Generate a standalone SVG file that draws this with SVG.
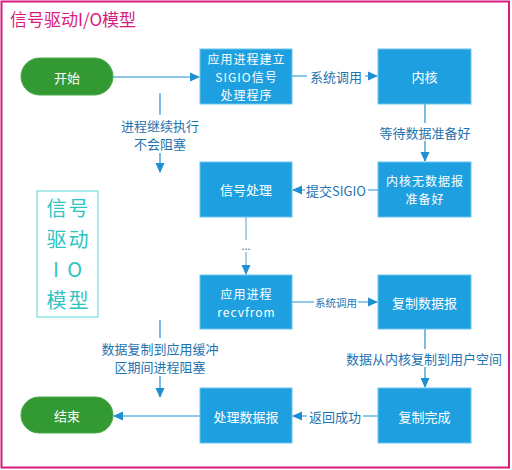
<svg xmlns="http://www.w3.org/2000/svg" width="512" height="470" viewBox="0 0 512 470">
<defs>
<marker id="arr" markerWidth="10" markerHeight="10" refX="9" refY="5" orient="auto" markerUnits="userSpaceOnUse">
<path d="M0,0.5 L10,5 L0,9.5 Z" fill="#1f8fd3"/>
</marker>
<style>
text{font-family:"Noto Sans CJK SC","Microsoft YaHei",sans-serif;}
.box{fill:#1ea0e0;stroke:#6cc3ef;stroke-width:1;}
.term{fill:#339933;stroke:#4aa84a;stroke-width:1;}
.nt{fill:#ffffff;font-size:13px;text-anchor:middle;dominant-baseline:central;}
.nm{fill:#ffffff;font-size:12px;letter-spacing:1px;text-anchor:middle;dominant-baseline:central;}
.ln{stroke:#1f8fd3;stroke-width:1.2;fill:none;}
.lb{fill:#1e73b0;font-size:13px;text-anchor:middle;dominant-baseline:central;}
.lbs{fill:#1e73b0;font-size:10.5px;text-anchor:middle;dominant-baseline:central;}
.bg{fill:#ffffff;}
.side{font-size:20px;letter-spacing:2px;fill:#2ec4c4;text-anchor:middle;dominant-baseline:central;}
</style>
</defs>
<rect x="1.5" y="1.5" width="507.5" height="466" fill="#ffffff" stroke="#d81b7e" stroke-width="2"/>
<text x="10" y="18" font-size="17" fill="#d81b7e" dominant-baseline="central">信号驱动I/O模型</text>

<g id="connectors">
<path class="ln" d="M113,77 H199" marker-end="url(#arr)"/>
<path class="ln" d="M292,76 H377" marker-end="url(#arr)"/>
<rect class="bg" x="307" y="67" width="58" height="18"/>
<text class="lb" x="336" y="76">系统调用</text>
<path class="ln" d="M425,104 V161" marker-end="url(#arr)"/>
<rect class="bg" x="377" y="123" width="96" height="18"/>
<text class="lb" x="425" y="132">等待数据准备好</text>
<path class="ln" d="M378,190 H293" marker-end="url(#arr)"/>
<rect class="bg" x="305" y="181" width="63" height="18"/>
<text class="lb" x="336" y="190">提交SIGIO</text>
<path class="ln" d="M160,93 V172" marker-end="url(#arr)"/>
<rect class="bg" x="118" y="115" width="84" height="38"/>
<text class="lb" x="160" y="125">进程继续执行</text>
<text class="lb" x="160" y="143">不会阻塞</text>
<path class="ln" d="M246,217 V274" marker-end="url(#arr)" stroke-opacity="0.7"/>
<rect class="bg" x="239" y="240" width="14" height="12"/>
<text class="lbs" x="246" y="245">...</text>
<path class="ln" d="M292,302 H377" marker-end="url(#arr)"/>
<rect class="bg" x="314" y="295" width="44" height="14"/>
<text class="lbs" x="336" y="302">系统调用</text>
<path class="ln" d="M425,329 V387" marker-end="url(#arr)"/>
<rect class="bg" x="345" y="349" width="160" height="18"/>
<text class="lb" x="424" y="358">数据从内核复制到用户空间</text>
<path class="ln" d="M378,416 H293" marker-end="url(#arr)"/>
<rect class="bg" x="307" y="407" width="56" height="18"/>
<text class="lb" x="335" y="416">返回成功</text>
<path class="ln" d="M200,416 H114" marker-end="url(#arr)"/>
<path class="ln" d="M160,320 V397" marker-end="url(#arr)"/>
<rect class="bg" x="98" y="338" width="124" height="38"/>
<text class="lb" x="160" y="348">数据复制到应用缓冲</text>
<text class="lb" x="160" y="366">区期间进程阻塞</text>
</g>

<g id="start">
<rect class="term" x="21" y="58" width="92" height="37" rx="18.5"/>
<text class="nt" x="67" y="77">开始</text>
</g>
<g id="setup">
<rect class="box" x="200" y="49" width="92" height="55"/>
<text class="nm" x="246.5" y="58.5">应用进程建立</text>
<text class="nm" x="246.5" y="76.5">SIGIO信号</text>
<text class="nm" x="246.5" y="94.5">处理程序</text>
</g>
<g id="kernel">
<rect class="box" x="378" y="49" width="93" height="55"/>
<text class="nt" x="424.5" y="76">内核</text>
</g>
<g id="notready">
<rect class="box" x="378" y="162" width="93" height="55"/>
<text class="nm" x="425" y="180.5">内核无数据报</text>
<text class="nm" x="425" y="198.5">准备好</text>
</g>
<g id="sighandle">
<rect class="box" x="200" y="162" width="92" height="55"/>
<text class="nt" x="246" y="189">信号处理</text>
</g>
<g id="recvfrom">
<rect class="box" x="200" y="275" width="92" height="54"/>
<text class="nm" x="246.5" y="293">应用进程</text>
<text class="nm" x="246.5" y="311">recvfrom</text>
</g>
<g id="copy">
<rect class="box" x="378" y="275" width="93" height="54"/>
<text class="nt" x="424.5" y="302">复制数据报</text>
</g>
<g id="copydone">
<rect class="box" x="378" y="388" width="93" height="55"/>
<text class="nt" x="424.5" y="416">复制完成</text>
</g>
<g id="process">
<rect class="box" x="200" y="388" width="92" height="55"/>
<text class="nt" x="246" y="416">处理数据报</text>
</g>
<g id="end">
<rect class="term" x="21" y="397" width="92" height="36" rx="18"/>
<text class="nt" x="67" y="415">结束</text>
</g>
<g id="sidebox">
<rect x="37" y="191" width="61" height="126" fill="#ffffff" stroke="#5fd6d6" stroke-width="1"/>
<text class="side" x="68.5" y="207">信号</text>
<text class="side" x="68.5" y="238">驱动</text>
<text class="side" x="68.5" y="268">I O</text>
<text class="side" x="68.5" y="299">模型</text>
</g>
</svg>
